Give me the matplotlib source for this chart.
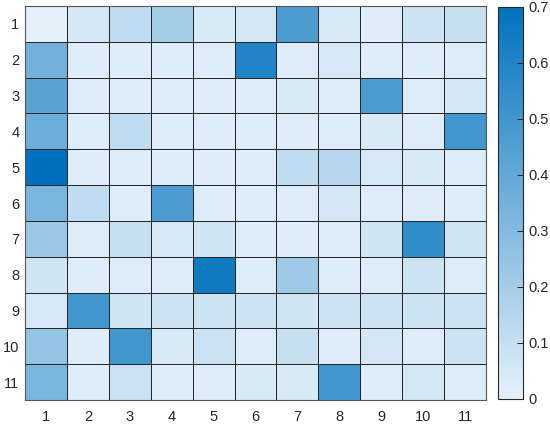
import numpy as np
import matplotlib
matplotlib.use("Agg")
import matplotlib.pyplot as plt
from matplotlib.colors import LinearSegmentedColormap

row_labels = ["1", "2", "3", "4", "5", "6", "7", "8", "9", "10", "11"]
col_labels = ["1", "2", "3", "4", "5", "6", "7", "8", "9", "10", "11"]

row1 = [0.01, 0.06, 0.12, 0.20, 0.04, 0.06, 0.47, 0.04, 0.02, 0.08, 0.10]
row2 = [0.35, 0.03, 0.03, 0.03, 0.03, 0.60, 0.03, 0.05, 0.03, 0.03, 0.03]
row3 = [0.43, 0.03, 0.03, 0.03, 0.03, 0.03, 0.04, 0.03, 0.47, 0.03, 0.06]
row4 = [0.37, 0.03, 0.12, 0.03, 0.03, 0.03, 0.03, 0.03, 0.04, 0.03, 0.50]
row5 = [0.70, 0.03, 0.03, 0.03, 0.03, 0.03, 0.12, 0.15, 0.05, 0.04, 0.03]
row6 = [0.33, 0.12, 0.03, 0.47, 0.03, 0.03, 0.03, 0.06, 0.03, 0.03, 0.03]
row7 = [0.23, 0.03, 0.10, 0.05, 0.07, 0.03, 0.03, 0.03, 0.07, 0.55, 0.07]
row8 = [0.07, 0.03, 0.03, 0.03, 0.65, 0.03, 0.22, 0.03, 0.03, 0.08, 0.03]
row9 = [0.05, 0.50, 0.07, 0.08, 0.08, 0.08, 0.07, 0.08, 0.08, 0.08, 0.08]
row10 = [0.25, 0.03, 0.50, 0.04, 0.09, 0.03, 0.10, 0.03, 0.06, 0.03, 0.08]
row11 = [0.33, 0.03, 0.09, 0.03, 0.03, 0.04, 0.04, 0.50, 0.03, 0.06, 0.03]

data = np.array([row1, row2, row3, row4, row5, row6, row7, row8, row9, row10, row11])

plt.rcParams['font.family'] = ['Liberation Sans', 'DejaVu Sans']
plt.rcParams['font.size'] = 10.5

cmap = LinearSegmentedColormap.from_list(
    "mblue", [(0.0, (0.902, 0.945, 0.98)), (1.0, (0.0, 0.447, 0.741))])

fig = plt.figure(figsize=(5.5, 4.26), dpi=100)
ax = fig.add_axes([25/550, 26/426, 461/550, 394/426])
cax = fig.add_axes([498/550, 27/426, 25/550, 392/426])

n = data.shape[0]
im = ax.pcolormesh(np.arange(n + 1) + 0.5, np.arange(n + 1) + 0.5, data,
                   cmap=cmap, vmin=0, vmax=0.7,
                   edgecolor='#262626', linewidth=0.7)
ax.set_xlim(0.5, n + 0.5)
ax.set_ylim(n + 0.5, 0.5)
ax.set_xticks(np.arange(1, n + 1))
ax.set_xticklabels(col_labels)
ax.set_yticks(np.arange(1, n + 1))
ax.set_yticklabels(row_labels)
ax.tick_params(axis='x', length=0, pad=7, labelsize=10.5, colors='#262626')
ax.tick_params(axis='y', length=0, pad=4, labelsize=10.5, colors='#262626')
for s in ax.spines.values():
    s.set_color('#555555')
    s.set_linewidth(0.8)

cb = fig.colorbar(im, cax=cax)
cb.set_ticks([0, 0.1, 0.2, 0.3, 0.4, 0.5, 0.6, 0.7])
cb.set_ticklabels(["0", "0.1", "0.2", "0.3", "0.4", "0.5", "0.6", "0.7"])
cb.ax.tick_params(direction='in', length=4, width=0.7, labelsize=10.5,
                  colors='#262626', pad=4)
cb.outline.set_edgecolor('#262626')
cb.outline.set_linewidth(0.8)

fig.savefig("out.png", dpi=100)
